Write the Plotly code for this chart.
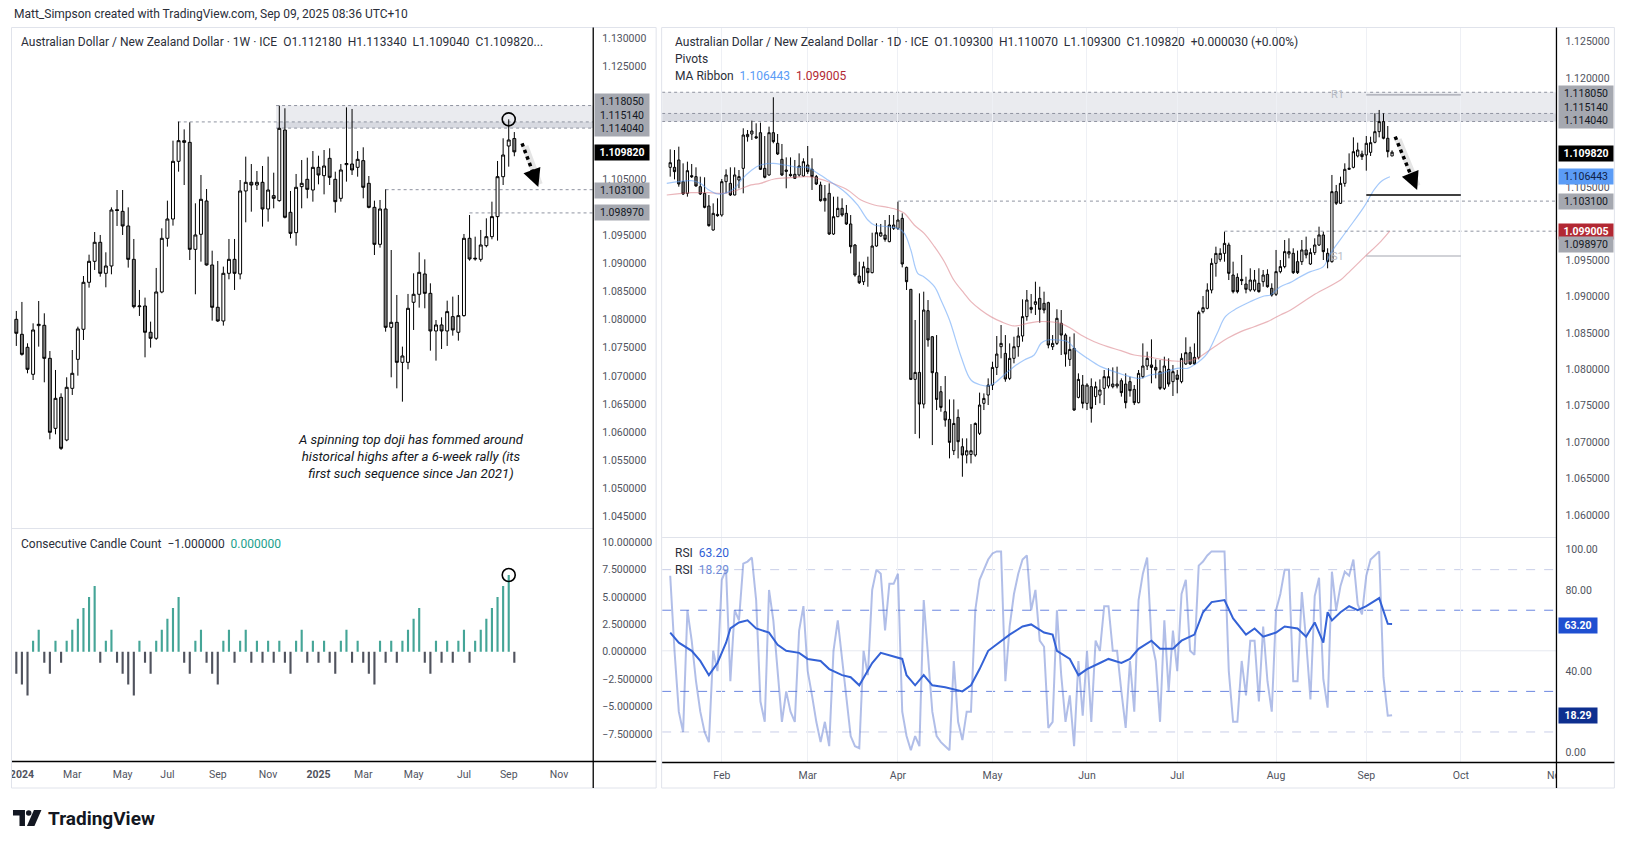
import plotly.graph_objects as go
import pandas as pd

W, H = 1625, 848
KX = 1.0055  # small horizontal calibration of the page layout
FONT = "Roboto, Liberation Sans, Arial, sans-serif"
TXT = "#131722"
AXC = "#50535e"


def px(x):
    return min(1.0, x * KX / W)


def py(y):
    return 1 - y / H


# ---------------- weekly AUD/NZD (left panel) ----------------
wk_open = [1.08006, 1.07740, 1.07509, 1.07029, 1.07894, 1.07900, 1.07313, 1.06069, 1.06620, 1.05862,
           1.06780, 1.07295, 1.07829, 1.08664, 1.09037, 1.09375, 1.08824, 1.08954, 1.09955, 1.09925,
           1.09665, 1.09072, 1.08231, 1.08243, 1.07776, 1.07669, 1.08492, 1.09446, 1.09789, 1.10814,
           1.11181, 1.11151, 1.09250, 1.09517, 1.10109, 1.08972, 1.08220, 1.07977, 1.08824, 1.09072,
           1.08812, 1.10287, 1.10441, 1.10393, 1.10441, 1.09967, 1.10204, 1.10115, 1.11370, 1.09908,
           1.09546, 1.10364, 1.10494, 1.10304, 1.10707, 1.10559, 1.10867, 1.10494, 1.10156, 1.10755,
           1.10766, 1.10707, 1.10826, 1.10423, 1.09996, 1.09339, 1.09967, 1.07864, 1.07953, 1.07242,
           1.07242, 1.08309, 1.08451, 1.08812, 1.08468, 1.07799, 1.07906, 1.07799, 1.08054, 1.07776,
           1.08072, 1.09446, 1.09078, 1.09072, 1.09315, 1.09475, 1.09831, 1.10541, 1.11086, 1.11218]
wk_high = [1.08155, 1.08315, 1.07580, 1.07935, 1.08332, 1.08113, 1.07443, 1.07106, 1.06691, 1.06976,
           1.07461, 1.07876, 1.08776, 1.09155, 1.09558, 1.09505, 1.09197, 1.09996, 1.10304, 1.10304,
           1.09996, 1.09434, 1.08528, 1.08392, 1.07965, 1.08919, 1.09623, 1.10115, 1.11181, 1.11519,
           1.11382, 1.11507, 1.10068, 1.10571, 1.10322, 1.09226, 1.09043, 1.08943, 1.09434, 1.09434,
           1.10482, 1.10897, 1.10766, 1.10642, 1.10731, 1.10897, 1.10612, 1.11803, 1.11756, 1.10287,
           1.10589, 1.10837, 1.10879, 1.10997, 1.10914, 1.11015, 1.11045, 1.10630, 1.10766, 1.11773,
           1.11744, 1.10997, 1.11063, 1.10553, 1.10115, 1.10127, 1.10316, 1.09238, 1.08439, 1.07521,
           1.08457, 1.08824, 1.09197, 1.09072, 1.08646, 1.07994, 1.08042, 1.08338, 1.08410, 1.08439,
           1.09523, 1.09860, 1.09475, 1.09594, 1.09801, 1.10097, 1.10820, 1.11223, 1.11560, 1.11334]
wk_low = [1.07533, 1.07361, 1.07047, 1.06928, 1.07521, 1.06887, 1.05874, 1.05963, 1.05685, 1.05840,
          1.06662, 1.07005, 1.07639, 1.08569, 1.08883, 1.08764, 1.08575, 1.08806, 1.09665, 1.09505,
          1.08925, 1.08202, 1.08066, 1.07331, 1.07503, 1.07640, 1.08470, 1.09298, 1.09671, 1.10630,
          1.10393, 1.09060, 1.08451, 1.09031, 1.08960, 1.07983, 1.07960, 1.07894, 1.08717, 1.08528,
          1.08717, 1.09730, 1.09919, 1.10304, 1.09653, 1.09742, 1.09979, 1.10097, 1.09800, 1.09446,
          1.09315, 1.09979, 1.10156, 1.10097, 1.10405, 1.10227, 1.10393, 1.09902, 1.10097, 1.10453,
          1.10571, 1.10541, 1.10156, 1.09979, 1.09149, 1.09280, 1.07787, 1.06976, 1.06780, 1.06543,
          1.07118, 1.07817, 1.08214, 1.08202, 1.07449, 1.07272, 1.07479, 1.07533, 1.07716, 1.07627,
          1.08054, 1.09049, 1.09049, 1.09031, 1.09286, 1.09428, 1.09404, 1.10393, 1.10719, 1.10904]
wk_close = [1.07758, 1.07384, 1.07118, 1.07817, 1.07918, 1.07313, 1.05998, 1.06602, 1.05714, 1.06798,
            1.07047, 1.07835, 1.08664, 1.09037, 1.09375, 1.08824, 1.08954, 1.09949, 1.09940, 1.09665,
            1.09072, 1.08231, 1.08243, 1.07776, 1.07669, 1.08492, 1.09446, 1.09789, 1.10814, 1.11181,
            1.11151, 1.09250, 1.09505, 1.10139, 1.08972, 1.08220, 1.07977, 1.08824, 1.09072, 1.08824,
            1.10287, 1.10441, 1.10393, 1.10441, 1.09967, 1.10304, 1.10156, 1.11400, 1.09819, 1.09534,
            1.10352, 1.10423, 1.10316, 1.10707, 1.10571, 1.10731, 1.10529, 1.10097, 1.10660, 1.10775,
            1.10660, 1.10849, 1.10352, 1.09996, 1.09339, 1.09967, 1.07864, 1.07953, 1.07242, 1.07355,
            1.08202, 1.08451, 1.08841, 1.08468, 1.07799, 1.07906, 1.07799, 1.08143, 1.07817, 1.08072,
            1.09446, 1.09078, 1.09090, 1.09327, 1.09475, 1.09831, 1.10541, 1.10926, 1.11193, 1.10982]

# Consecutive Candle Count indicator (weekly)
cc_count = [-2, -3, -4, 1, 2, -1, -2, 1, -1, 1,
            2, 3, 4, 5, 6, -1, 1, 2, -1, -2,
            -3, -4, 1, -1, -2, 1, 2, 3, 4, 5,
            -1, -2, 1, 2, -1, -2, -3, 1, 2, -1,
            1, 2, -1, 1, -1, 1, -1, 1, -1, -2,
            1, 2, -1, 1, -1, 1, -1, -2, 1, 2,
            -1, 1, -1, -2, -3, 1, -1, 1, -1, 1,
            2, 3, 4, -1, -2, 1, -1, 1, -1, 1,
            2, -1, 1, 2, 3, 4, 5, 6, 7, -1]

left_tick_dates = ["2024-01-01", "2024-03-04", "2024-05-06", "2024-07-01", "2024-09-02", "2024-11-04",
                   "2025-01-06", "2025-03-03", "2025-05-05", "2025-07-07", "2025-09-01", "2025-11-03"]
left_tick_text = ["<b>2024</b>", "Mar", "May", "Jul", "Sep", "Nov",
                  "<b>2025</b>", "Mar", "May", "Jul", "Sep", "Nov"]
# price ticks left visible (the ones under the level labels are covered in the reference)
left_price_ticks = [1.045, 1.05, 1.055, 1.06, 1.065, 1.07, 1.075, 1.08, 1.085, 1.09, 1.095,
                    1.105, 1.125, 1.13]

# ---------------- daily AUD/NZD (right panel), bars from 16 Jan 2025 ----------------
d_open = [1.10774, 1.10774, 1.10875, 1.10577, 1.10417, 1.10660, 1.10646, 1.10508, 1.10417, 1.10243,
          1.09913, 1.10128, 1.10119, 1.10577, 1.10554, 1.10394, 1.10600, 1.10760, 1.11195, 1.11232,
          1.11195, 1.11250, 1.10760, 1.10669, 1.11250, 1.11104, 1.10884, 1.10737, 1.10678, 1.10678,
          1.10669, 1.10655, 1.10806, 1.10747, 1.10646, 1.10531, 1.10316, 1.10417, 1.09858, 1.10096,
          1.10211, 1.10142, 1.09996, 1.09707, 1.09281, 1.09203, 1.09386, 1.09327, 1.09693, 1.09831,
          1.09844, 1.09753, 1.09936, 1.09936, 1.10073, 1.09400, 1.09098, 1.07861, 1.07957, 1.07522,
          1.08805, 1.08447, 1.07953, 1.07692, 1.07417, 1.07312, 1.06881, 1.07339, 1.06936, 1.06822,
          1.06830, 1.06822, 1.07120, 1.07532, 1.07646, 1.07783, 1.08026, 1.08310, 1.08218, 1.07875,
          1.08150, 1.08310, 1.08457, 1.08723, 1.08850, 1.08892, 1.08974, 1.08906, 1.08915, 1.08310,
          1.08356, 1.08631, 1.08470, 1.08136, 1.08287, 1.07614, 1.07783, 1.07532, 1.07761, 1.07624,
          1.07646, 1.07738, 1.07770, 1.07761, 1.07770, 1.07843, 1.07797, 1.07830, 1.07724, 1.07541,
          1.07898, 1.08045, 1.08059, 1.08026, 1.07967, 1.07738, 1.07999, 1.07830, 1.07921, 1.07830,
          1.08073, 1.08228, 1.08164, 1.08164, 1.08791, 1.08837, 1.09089, 1.09455, 1.09510, 1.09592,
          1.09707, 1.09295, 1.09263, 1.09235, 1.09171, 1.09089, 1.09089, 1.09181, 1.09203, 1.09304,
          1.09112, 1.09030, 1.09341, 1.09410, 1.09584, 1.09593, 1.09478, 1.09478, 1.09639, 1.09446,
          1.09602, 1.09707, 1.09845, 1.09593, 1.09478, 1.10440, 1.10280, 1.10554, 1.10747, 1.10774,
          1.10930, 1.10957, 1.10944, 1.10980, 1.11118, 1.11264, 1.11402, 1.11173, 1.10930]
d_high = [1.11021, 1.11012, 1.11058, 1.10829, 1.10852, 1.10820, 1.10774, 1.10646, 1.10637, 1.10394,
          1.10279, 1.10348, 1.10614, 1.10747, 1.10774, 1.10774, 1.10737, 1.11310, 1.11287, 1.11415,
          1.11379, 1.11388, 1.11204, 1.11333, 1.11736, 1.11232, 1.11095, 1.10911, 1.10911, 1.10875,
          1.10966, 1.10898, 1.11067, 1.10898, 1.10669, 1.10577, 1.10531, 1.10554, 1.10371, 1.10371,
          1.10348, 1.10257, 1.10119, 1.09721, 1.09478, 1.09478, 1.09547, 1.09876, 1.10005, 1.09996,
          1.10050, 1.10119, 1.10119, 1.10302, 1.10142, 1.09410, 1.09100, 1.08677, 1.09043, 1.09066,
          1.08951, 1.08457, 1.08470, 1.07770, 1.07907, 1.07586, 1.07586, 1.07449, 1.07051, 1.07051,
          1.07247, 1.07270, 1.07679, 1.07669, 1.07875, 1.08104, 1.08457, 1.08608, 1.08470, 1.08356,
          1.08447, 1.08576, 1.08961, 1.09089, 1.09034, 1.09203, 1.09134, 1.09066, 1.08928, 1.08470,
          1.08824, 1.08814, 1.08493, 1.08447, 1.08493, 1.07944, 1.07921, 1.07807, 1.07875, 1.07830,
          1.07861, 1.07990, 1.08013, 1.08026, 1.08036, 1.07875, 1.07944, 1.07898, 1.07784, 1.07990,
          1.08356, 1.08242, 1.08411, 1.08136, 1.08127, 1.08173, 1.08150, 1.08059, 1.07990, 1.08219,
          1.08439, 1.08310, 1.08356, 1.08805, 1.09007, 1.09181, 1.09524, 1.09684, 1.09662, 1.09890,
          1.09739, 1.09478, 1.09318, 1.09570, 1.09272, 1.09387, 1.09364, 1.09387, 1.09364, 1.09373,
          1.09181, 1.09639, 1.09501, 1.09776, 1.09799, 1.09662, 1.09630, 1.09776, 1.09822, 1.09662,
          1.09799, 1.09959, 1.09890, 1.09662, 1.10669, 1.10532, 1.10646, 1.10829, 1.10966, 1.11186,
          1.11113, 1.11003, 1.11204, 1.11195, 1.11516, 1.11562, 1.11516, 1.11342, 1.11007]
d_low = [1.10646, 1.10609, 1.10508, 1.10394, 1.10371, 1.10628, 1.10508, 1.10394, 1.10211, 1.09959,
         1.09904, 1.10096, 1.10096, 1.10417, 1.10380, 1.10390, 1.10486, 1.10417, 1.11127, 1.11150,
         1.11168, 1.10737, 1.10623, 1.10660, 1.11104, 1.10944, 1.10655, 1.10486, 1.10646, 1.10614,
         1.10646, 1.10646, 1.10683, 1.10463, 1.10531, 1.10302, 1.10165, 1.09845, 1.09845, 1.10090,
         1.10096, 1.09982, 1.09592, 1.09272, 1.09171, 1.09157, 1.09134, 1.09318, 1.09684, 1.09821,
         1.09753, 1.09745, 1.09913, 1.09913, 1.09400, 1.09089, 1.07852, 1.07111, 1.07051, 1.07463,
         1.08310, 1.06959, 1.07440, 1.07417, 1.07211, 1.06776, 1.06822, 1.06776, 1.06524, 1.06707,
         1.06707, 1.06799, 1.07097, 1.07440, 1.07509, 1.07715, 1.07921, 1.08150, 1.07829, 1.07852,
         1.08082, 1.08173, 1.08379, 1.08667, 1.08768, 1.08746, 1.08640, 1.08768, 1.08288, 1.08265,
         1.08333, 1.08196, 1.08036, 1.08045, 1.07430, 1.07600, 1.07463, 1.07440, 1.07267, 1.07509,
         1.07532, 1.07509, 1.07738, 1.07738, 1.07738, 1.07624, 1.07463, 1.07624, 1.07509, 1.07532,
         1.07875, 1.07990, 1.07807, 1.07875, 1.07715, 1.07715, 1.07761, 1.07633, 1.07669, 1.07807,
         1.08059, 1.08059, 1.08059, 1.08136, 1.08768, 1.08824, 1.09043, 1.09272, 1.09478, 1.09478,
         1.09226, 1.09043, 1.09043, 1.09157, 1.09043, 1.09066, 1.09066, 1.09053, 1.09134, 1.09121,
         1.08998, 1.09007, 1.09318, 1.09387, 1.09524, 1.09309, 1.09309, 1.09433, 1.09524, 1.09433,
         1.09570, 1.09693, 1.09501, 1.09387, 1.09465, 1.10257, 1.10271, 1.10508, 1.10737, 1.10760,
         1.10911, 1.10875, 1.10728, 1.10930, 1.11104, 1.11186, 1.11159, 1.10911, 1.10930]
d_close = [1.10838, 1.10715, 1.10545, 1.10408, 1.10728, 1.10645, 1.10518, 1.10408, 1.10224, 1.09973,
           1.10142, 1.10110, 1.10577, 1.10669, 1.10394, 1.10669, 1.10646, 1.11218, 1.11227, 1.11273,
           1.11177, 1.10747, 1.10637, 1.11250, 1.11127, 1.10957, 1.10669, 1.10719, 1.10660, 1.10623,
           1.10792, 1.10852, 1.10715, 1.10646, 1.10545, 1.10316, 1.10348, 1.09858, 1.10096, 1.10211,
           1.10119, 1.09996, 1.09684, 1.09295, 1.09189, 1.09409, 1.09327, 1.09693, 1.09876, 1.09876,
           1.09785, 1.09982, 1.09982, 1.10050, 1.09446, 1.09203, 1.07861, 1.07957, 1.07522, 1.08814,
           1.08402, 1.07953, 1.07586, 1.07476, 1.07302, 1.06996, 1.07256, 1.07005, 1.06822, 1.06881,
           1.06881, 1.07256, 1.07509, 1.07600, 1.07783, 1.08026, 1.08209, 1.08356, 1.07866, 1.08150,
           1.08310, 1.08457, 1.08723, 1.08951, 1.08823, 1.08928, 1.08823, 1.08814, 1.08333, 1.08356,
           1.08700, 1.08470, 1.08209, 1.08273, 1.07440, 1.07861, 1.07532, 1.07783, 1.07463, 1.07761,
           1.07715, 1.07898, 1.07898, 1.07797, 1.07797, 1.07679, 1.07541, 1.07706, 1.07541, 1.07944,
           1.08045, 1.08150, 1.08026, 1.07990, 1.07738, 1.08045, 1.07797, 1.07967, 1.07861, 1.08150,
           1.08228, 1.08073, 1.08073, 1.08778, 1.08846, 1.09089, 1.09455, 1.09592, 1.09592, 1.09730,
           1.09318, 1.09066, 1.09066, 1.09217, 1.09098, 1.09226, 1.09226, 1.09066, 1.09295, 1.09134,
           1.09020, 1.09341, 1.09410, 1.09616, 1.09616, 1.09327, 1.09327, 1.09639, 1.09570, 1.09602,
           1.09707, 1.09845, 1.09616, 1.09478, 1.10440, 1.10280, 1.10554, 1.10747, 1.10760, 1.10989,
           1.11012, 1.10921, 1.11104, 1.11113, 1.11264, 1.11402, 1.11173, 1.10989, 1.10982]
d_first_bar = -12  # bar index relative to 3 Feb 2025

# MA Ribbon (read at sample bars)
ma_fast_idx = [-12.8, -7, -5, -3, -1, 0.6, 3, 4.5, 7, 9, 12, 14.6, 17.7, 20, 22.3, 24.7, 27, 29, 31.6, 34,
               35.5, 38.6, 41, 42.5, 44, 45.6, 47, 49.5, 51, 53, 55.7, 58, 60.3, 61.9, 63.4, 65.7, 68, 70.4,
               72.7, 74.3, 75.8, 78.1, 80.5, 82.4, 85.1, 88.2, 91.3, 93.6, 95.9, 97.5, 99.8, 102.2, 106,
               108.4, 109.9, 111.5, 113, 115.3, 117.2, 119.9, 123, 126.2, 127.7, 130, 132.4, 134, 137, 140,
               141.7, 145.6, 149.5, 151.8, 153.4, 155.5]
ma_fast_val = [1.10554, 1.10591, 1.10554, 1.10463, 1.10408, 1.10417, 1.10486, 1.10600, 1.10738, 1.10806,
               1.10829, 1.10806, 1.10774, 1.10774, 1.10692, 1.10600, 1.10509, 1.10417, 1.10257, 1.10051,
               1.09982, 1.09959, 1.09936, 1.09868, 1.09639, 1.09318, 1.09272, 1.09135, 1.08952, 1.08677,
               1.08173, 1.07853, 1.07784, 1.07770, 1.07807, 1.07922, 1.08036, 1.08128, 1.08196, 1.08357,
               1.08402, 1.08402, 1.08379, 1.08265, 1.08150, 1.08036, 1.07967, 1.07922, 1.07885, 1.07876,
               1.07922, 1.07944, 1.08013, 1.08013, 1.08059, 1.08128, 1.08219, 1.08494, 1.08723, 1.08837,
               1.08929, 1.09007, 1.09021, 1.09135, 1.09194, 1.09249, 1.09341, 1.09410, 1.09593, 1.09913,
               1.10234, 1.10463, 1.10577, 1.10644]
ma_slow_idx = [-12.8, -7, -3, 0.6, 3.7, 6.8, 9, 12.2, 16.1, 20, 23.1, 26.2, 29.3, 32.4, 35.5, 38.6, 41, 42.5,
               44.8, 47.1, 49.5, 51.8, 54, 56.4, 58, 60.3, 62.6, 65, 68, 71.1, 73.5, 75.8, 78.9, 81.2, 83.6,
               86.7, 89.8, 92.9, 96, 99.1, 102.2, 105.3, 108.4, 110.7, 113, 115.3, 117.7, 120.8, 123.9, 127,
               130, 132.4, 138, 144, 145.6, 149.5, 153.4, 155.5]
ma_slow_val = [1.10394, 1.10426, 1.10426, 1.10417, 1.10463, 1.10532, 1.10554, 1.10614, 1.10632, 1.10646,
               1.10609, 1.10545, 1.10463, 1.10325, 1.10257, 1.10225, 1.10188, 1.10142, 1.09982, 1.09868,
               1.09684, 1.09478, 1.09226, 1.09043, 1.08929, 1.08814, 1.08723, 1.08654, 1.08595, 1.08631,
               1.08654, 1.08654, 1.08631, 1.08563, 1.08471, 1.08379, 1.08311, 1.08256, 1.08196, 1.08173,
               1.08137, 1.08114, 1.08114, 1.08150, 1.08242, 1.08334, 1.08425, 1.08517, 1.08585, 1.08654,
               1.08746, 1.08814, 1.0903, 1.09227, 1.09314, 1.09538, 1.09758, 1.09900]
ma_fast_last, ma_slow_last = 1.106443, 1.099005

# RSI lines
rsi_fast = [87, 50, 20, 10, 70, 55, 35, 20, 10, 5, 50, 40, 85, 90, 35, 70, 65, 93, 94, 96,
            75, 25, 15, 80, 65, 40, 15, 30, 20, 15, 60, 72, 40, 28, 15, 5, 15, 3, 50, 65,
            45, 25, 8, 3, 2, 50, 38, 80, 90, 88, 60, 83, 83, 88, 20, 8, 1, 8, 3, 75,
            45, 20, 8, 5, 3, 1, 45, 15, 6, 20, 20, 70, 85, 90, 95, 98, 99, 99, 35, 62,
            78, 88, 95, 97, 70, 80, 55, 52, 12, 15, 70, 38, 15, 28, 3, 45, 18, 50, 15, 55,
            50, 72, 72, 50, 50, 30, 12, 45, 20, 75, 88, 96, 55, 45, 15, 65, 30, 60, 40, 78,
            85, 50, 48, 92, 94, 97, 99, 99, 99, 99, 40, 15, 15, 45, 28, 55, 55, 25, 62, 35,
            20, 70, 78, 90, 90, 35, 35, 79, 55, 26, 77, 86, 36, 22, 89, 70, 82, 89, 87, 95,
            73, 68, 87, 95, 97, 99, 37, 18, 18.29]
rsi_slow_idx = [-12, -10, -7, -5, -3, -1, 1, 2, 4, 6, 8, 11, 13, 15, 18, 20, 23, 25, 28, 30, 32, 35, 37, 40,
                42, 43, 45, 47, 49, 52, 54, 56, 58, 60, 62, 65, 67, 70, 72, 75, 77, 78, 81, 83, 85, 88, 90,
                93, 95, 97, 100, 102, 105, 107, 110, 112, 114, 117, 119, 122, 124, 126, 129, 131, 134, 136,
                138, 140, 141, 142, 144, 146, 148, 150, 153, 155, 156]
rsi_slow_val = [59, 54, 50, 45, 38, 44, 54, 61, 64, 65, 61, 59, 53, 50, 49, 46, 45, 41, 38, 37, 33, 44, 49, 47,
                46, 38, 33, 38, 33, 32, 31, 30, 33, 41, 50, 55, 58, 62, 63, 59, 58, 50, 46, 38, 41, 44, 46,
                44, 46, 51, 55, 51, 51, 55, 58, 69, 74, 75, 66, 58, 61, 57, 59, 62, 61, 57, 64, 54, 69, 65,
                69, 72, 70, 72, 76, 63.3, 63.2]

d_tick_idx = [0, 20, 41, 63, 85, 106, 129, 150, 172, 194.2]
d_tick_text = ["Feb", "Mar", "Apr", "May", "Jun", "Jul", "Aug", "Sep", "Oct", "Nov"]
right_price_ticks = [1.06, 1.065, 1.07, 1.075, 1.08, 1.085, 1.09, 1.095, 1.105,
                     1.12, 1.125]
rsi_ticks = [0, 40, 80, 100]

# key levels
zone_top, zone_mid, zone_bot = 1.11805, 1.11514, 1.11404
level_a, level_b = 1.10310, 1.09897
pivot_r1, pivot_p, pivot_s1 = 1.11768, 1.10394, 1.09556
last_close = 1.10982

# ---------------- figure ----------------
week_dates = pd.date_range("2023-12-25", periods=len(wk_close), freq="7D")
d_idx = list(range(d_first_bar, d_first_bar + len(d_close)))

L_RANGE = ["2023-12-19 14:00", "2025-12-15 17:00"]
R_RANGE = [-13.88, 194.26]

fig = go.Figure()
candle_style = dict(
    increasing=dict(line=dict(color="#000000", width=1), fillcolor="#ffffff"),
    decreasing=dict(line=dict(color="#000000", width=1), fillcolor="#7f7f7f"),
    whiskerwidth=0, showlegend=False, hoverinfo="skip")

fig.add_trace(go.Candlestick(x=week_dates, open=wk_open, high=wk_high, low=wk_low, close=wk_close,
                             xaxis="x", yaxis="y", **candle_style))
fig.add_trace(go.Bar(x=week_dates, y=cc_count, xaxis="x2", yaxis="y2", width=2.3e8,
                     marker=dict(color=["#45a597" if v > 0 else "#50535e" for v in cc_count], line=dict(width=0)),
                     showlegend=False, hoverinfo="skip"))

fig.add_trace(go.Scatter(x=ma_slow_idx, y=ma_slow_val, mode="lines", xaxis="x3", yaxis="y3",
                         line=dict(color="rgba(214,110,120,0.5)", width=1.2, shape="spline"),
                         showlegend=False, hoverinfo="skip"))
fig.add_trace(go.Scatter(x=ma_fast_idx, y=ma_fast_val, mode="lines", xaxis="x3", yaxis="y3",
                         line=dict(color="rgba(91,156,246,0.55)", width=1.2, shape="spline"),
                         showlegend=False, hoverinfo="skip"))
fig.add_trace(go.Candlestick(x=d_idx, open=d_open, high=d_high, low=d_low, close=d_close,
                             xaxis="x3", yaxis="y3", **candle_style))

fig.add_trace(go.Scatter(x=d_idx, y=rsi_fast, mode="lines", xaxis="x4", yaxis="y4",
                         line=dict(color="rgba(70,100,200,0.42)", width=2),
                         showlegend=False, hoverinfo="skip"))
fig.add_trace(go.Scatter(x=rsi_slow_idx, y=rsi_slow_val, mode="lines", xaxis="x4", yaxis="y4",
                         line=dict(color="#3462d6", width=2),
                         showlegend=False, hoverinfo="skip"))

tickfont = dict(family=FONT, size=10.5, color=AXC)
base_x = dict(showgrid=False, zeroline=False, showline=False, fixedrange=True, ticks="")
base_y = dict(showgrid=False, zeroline=False, showline=False, fixedrange=True, ticks="", side="right",
              tickfont=tickfont, ticklabelstandoff=8)

fig.update_layout(
    width=W, height=H, margin=dict(l=0, r=0, t=0, b=0),
    paper_bgcolor="white", plot_bgcolor="white", showlegend=False, hovermode=False,
    boxgap=0.25,
    xaxis=dict(base_x, domain=[px(10), px(592)], range=L_RANGE, type="date", anchor="y",
               showticklabels=False, rangeslider=dict(visible=False)),
    yaxis=dict(base_y, domain=[py(528), py(28)], range=[1.04298, 1.13183], anchor="x",
               tickvals=left_price_ticks, tickformat=".6f"),
    xaxis2=dict(base_x, domain=[px(10), px(592)], range=L_RANGE, type="date", anchor="y2",
                tickvals=left_tick_dates, ticktext=left_tick_text, tickfont=tickfont, ticklabelstandoff=5),
    yaxis2=dict(base_y, domain=[py(761), py(529)], range=[-9.97, 11.2], anchor="x2",
                tickvals=[-7.5, -5, -2.5, 0, 2.5, 5, 7.5, 10], tickformat=".6f"),
    xaxis3=dict(base_x, domain=[px(661), px(1556.5)], range=R_RANGE, anchor="y3", showticklabels=False,
                tickvals=d_tick_idx, showgrid=True, gridcolor="#eef0f5", gridwidth=1,
                rangeslider=dict(visible=False)),
    yaxis3=dict(base_y, domain=[py(537), py(28)], range=[1.05696, 1.12688], anchor="x3",
                tickvals=right_price_ticks, tickformat=".6f"),
    xaxis4=dict(base_x, domain=[px(661), px(1556.5)], range=R_RANGE, anchor="y4",
                tickvals=d_tick_idx, ticktext=d_tick_text, tickfont=tickfont, ticklabelstandoff=5,
                showgrid=True, gridcolor="#eef0f5", gridwidth=1),
    yaxis4=dict(base_y, domain=[py(762), py(538)], range=[-4.8, 105.6], anchor="x4",
                tickvals=rsi_ticks, ticktext=["%.2f" % v for v in rsi_ticks]),
)

shapes = []
ZONE = "rgba(130,134,160,0.17)"
DOT = "#8f93a0"
# left zone + levels
zone_start = "2024-11-14"
shapes += [
    dict(type="rect", xref="x", yref="y", x0=zone_start, x1=L_RANGE[1], y0=zone_bot, y1=zone_top,
         fillcolor=ZONE, line=dict(width=0), layer="below"),
    dict(type="rect", xref="x", yref="y", x0=zone_start, x1=L_RANGE[1], y0=zone_bot, y1=zone_mid,
         fillcolor=ZONE, line=dict(width=0), layer="below"),
    dict(type="line", xref="x", yref="y", x0=zone_start, x1=L_RANGE[1], y0=zone_top, y1=zone_top,
         line=dict(color=DOT, width=1, dash="dot"), layer="below"),
    dict(type="line", xref="x", yref="y", x0="2024-07-14", x1=L_RANGE[1], y0=zone_mid, y1=zone_mid,
         line=dict(color=DOT, width=1, dash="dot"), layer="below"),
    dict(type="line", xref="x", yref="y", x0=zone_start, x1=L_RANGE[1], y0=zone_bot, y1=zone_bot,
         line=dict(color=DOT, width=1, dash="dot"), layer="below"),
    dict(type="line", xref="x", yref="y", x0=str(week_dates[66].date()), x1=L_RANGE[1], y0=level_a, y1=level_a,
         line=dict(color=DOT, width=1, dash="dot"), layer="below"),
    dict(type="line", xref="x", yref="y", x0=str(week_dates[81].date()), x1=L_RANGE[1], y0=level_b, y1=level_b,
         line=dict(color=DOT, width=1, dash="dot"), layer="below"),
]
# right zone + levels
shapes += [
    dict(type="rect", xref="x3", yref="y3", x0=R_RANGE[0], x1=R_RANGE[1], y0=zone_bot, y1=zone_top,
         fillcolor=ZONE, line=dict(width=0), layer="below"),
    dict(type="rect", xref="x3", yref="y3", x0=R_RANGE[0], x1=R_RANGE[1], y0=zone_bot, y1=zone_mid,
         fillcolor=ZONE, line=dict(width=0), layer="below"),
]
for lv in (zone_top, zone_mid, zone_bot):
    shapes.append(dict(type="line", xref="x3", yref="y3", x0=R_RANGE[0], x1=R_RANGE[1], y0=lv, y1=lv,
                       line=dict(color=DOT, width=1, dash="dot"), layer="below"))
shapes += [
    dict(type="line", xref="x3", yref="y3", x0=41, x1=R_RANGE[1], y0=level_a, y1=level_a,
         line=dict(color=DOT, width=1, dash="dot"), layer="below"),
    dict(type="line", xref="x3", yref="y3", x0=117, x1=R_RANGE[1], y0=level_b, y1=level_b,
         line=dict(color=DOT, width=1, dash="dot"), layer="below"),
    dict(type="line", xref="x3", yref="y3", x0=150, x1=172, y0=pivot_r1, y1=pivot_r1,
         line=dict(color="#a3a6af", width=1.2)),
    dict(type="line", xref="x3", yref="y3", x0=150, x1=172, y0=pivot_p, y1=pivot_p,
         line=dict(color="#000000", width=1.5)),
    dict(type="line", xref="x3", yref="y3", x0=150, x1=172, y0=pivot_s1, y1=pivot_s1,
         line=dict(color="#a3a6af", width=1.2)),
]
# RSI bands
for lv, col in ((90, "#c9cfe8"), (70, "#6a86e0"), (30, "#6a86e0"), (10, "#c9cfe8")):
    shapes.append(dict(type="line", xref="x4", yref="y4", x0=R_RANGE[0], x1=R_RANGE[1], y0=lv, y1=lv,
                       line=dict(color=col, width=1, dash="dash"), layer="below"))
shapes.append(dict(type="line", xref="x4", yref="y4", x0=R_RANGE[0], x1=R_RANGE[1], y0=50, y1=50,
                   line=dict(color="#e6e9f0", width=1), layer="below"))

# circles on the doji
shapes += [
    dict(type="circle", xref="x", yref="y", xsizemode="pixel", ysizemode="pixel",
         xanchor=str(week_dates[88].date()), yanchor=wk_high[88], x0=-6.5, x1=6.5, y0=-6.5, y1=6.5,
         line=dict(color="#000", width=1.6)),
    dict(type="circle", xref="x2", yref="y2", xsizemode="pixel", ysizemode="pixel",
         xanchor=str(week_dates[88].date()), yanchor=cc_count[88], x0=-6.5, x1=6.5, y0=-6.5, y1=6.5,
         line=dict(color="#000", width=1.6)),
]


def pl(x0, y0, x1, y1, color, width, dash="solid", layer="above"):
    return dict(type="line", xref="paper", yref="paper", x0=px(x0), y0=py(y0), x1=px(x1), y1=py(y1),
                line=dict(color=color, width=width, dash=dash), layer=layer)


# dotted arrows with soft shadow
for (ax0, ay0, ax1, ay1) in ((520.7, 143.3, 535.0, 181.5), (1395.0, 136.7, 1414.0, 183.0)):
    shapes.append(pl(ax0 + 3, ay0 + 3, ax1 + 3, ay1 + 3, "rgba(0,0,0,0.10)", 7))
    shapes.append(pl(ax0, ay0, ax1, ay1, "#000000", 3.5, "dot"))

# covers for time-axis labels beyond panes
shapes += [
    dict(type="rect", xref="paper", yref="paper", x0=0, x1=px(10), y0=py(790), y1=py(762),
         fillcolor="white", line=dict(width=0), layer="above"),
    dict(type="rect", xref="paper", yref="paper", x0=px(1557), x1=px(1614), y0=py(790), y1=py(763),
         fillcolor="white", line=dict(width=0), layer="above"),
]
# frames and separators
FR = "#e0e3eb"
shapes += [
    dict(type="rect", xref="paper", yref="paper", x0=px(9.5), x1=px(655), y0=py(788), y1=py(27.5),
         line=dict(color=FR, width=1), fillcolor="rgba(0,0,0,0)", layer="above"),
    dict(type="rect", xref="paper", yref="paper", x0=px(660.5), x1=px(1614.5), y0=py(788), y1=py(27.5),
         line=dict(color=FR, width=1), fillcolor="rgba(0,0,0,0)", layer="above"),
    pl(10, 528.5, 592, 528.5, FR, 1),
    pl(661, 537.5, 1556, 537.5, FR, 1),
    pl(592, 27.5, 592, 788, "#000000", 1.3),
    pl(10, 761.5, 655, 761.5, "#000000", 1.3),
    pl(1556.5, 27.5, 1556.5, 788, "#000000", 1.3),
    pl(661, 762.5, 1614.5, 762.5, "#000000", 1.3),
]

# TradingView logo
shapes += [
    dict(type="path", xref="paper", yref="paper", fillcolor=TXT, line=dict(width=0),
         path="M {} {} L {} {} L {} {} L {} {} L {} {} L {} {} Z".format(
             px(11), py(810), px(23), py(810), px(23), py(826), px(17.5), py(826), px(17.5), py(815.5),
             px(11), py(815.5))),
    dict(type="circle", xref="paper", yref="paper", fillcolor=TXT, line=dict(width=0),
         x0=px(24), x1=px(29.5), y0=py(815.8), y1=py(810.3)),
    dict(type="path", xref="paper", yref="paper", fillcolor=TXT, line=dict(width=0),
         path="M {} {} L {} {} L {} {} L {} {} Z".format(
             px(32), py(810), px(39.5), py(810), px(32.5), py(826), px(25), py(826))),
]
fig.update_layout(shapes=shapes)

# ---------------- annotations ----------------
ann = []


def text(x, y, t, size=12, color=TXT, xanchor="left", **kw):
    d = dict(x=px(x), y=py(y), xref="paper", yref="paper", text=t, showarrow=False, xanchor=xanchor,
             yanchor="middle", font=dict(family=FONT, size=size, color=color))
    d.update(kw)
    return d


def box(x, y, t, bg, fg, w=52, bold=False, size=10.5):
    return dict(x=px(x), y=py(y), xref="paper", yref="paper", text=("<b>%s</b>" % t) if bold else t,
                showarrow=False, xanchor="left", yanchor="middle", bgcolor=bg, width=w, align="center",
                borderpad=1, font=dict(family=FONT, size=size, color=fg))


S2 = "\u00a0\u00a0"
ann.append(text(10, 14.5, "Matt_Simpson created with TradingView.com, Sep 09, 2025 08:36 UTC+10", size=12,
                color="#2a2e39"))
ann.append(text(17, 41.5, "Australian Dollar / New Zealand Dollar · 1W · ICE" + S2 +
                f"O{wk_open[-1]:.6f}" + S2 + f"H{wk_high[-1]:.6f}" + S2 + f"L{wk_low[-1]:.6f}" + S2 +
                f"C{wk_close[-1]:.6f}...", size=12, color="#2a2e39"))
ann.append(text(17, 544, "Consecutive Candle Count" + S2 + f"{cc_count[-1]:.6f}".replace("-", "\u2212") +
                S2 + "<span style='color:#22a08c'>0.000000</span>", size=12, color="#2a2e39"))
ann.append(text(672, 41.5, "Australian Dollar / New Zealand Dollar · 1D · ICE" + S2 +
                f"O{d_open[-1]:.6f}" + S2 + f"H{d_high[-1]:.6f}" + S2 + f"L{d_low[-1]:.6f}" + S2 +
                f"C{d_close[-1]:.6f}" + S2 + "+0.000030 (+0.00%)", size=12, color="#2a2e39"))
ann.append(text(672, 59, "Pivots", size=12, color="#2a2e39"))
ann.append(text(672, 75.7, "MA Ribbon" + S2 + f"<span style='color:#5b9cf6'>{ma_fast_last:.6f}</span>" + S2 +
                f"<span style='color:#b22833'>{ma_slow_last:.6f}</span>", size=12, color="#2a2e39"))
ann.append(text(672, 553, "RSI" + S2 + f"<span style='color:#2f5fd6'>{rsi_slow_val[-1]:.2f}</span>",
                size=12, color="#2a2e39"))
ann.append(text(672, 569.7, "RSI" + S2 + f"<span style='color:#6f8bd8'>{rsi_fast[-1]:.2f}</span>",
                size=12, color="#2a2e39"))

# commentary
ann.append(text(410, 456, "<i>A spinning top doji has fommed around<br>historical highs after a 6-week rally (its"
                          "<br>first such sequence since Jan 2021)</i>", size=13.2, color=TXT, xanchor="center",
                align="center"))

# pivot labels
ann.append(dict(x=143.4, y=pivot_r1, xref="x3", yref="y3", text="R1", showarrow=False,
                font=dict(family=FONT, size=11, color="#b8bbc4")))
ann.append(dict(x=143.4, y=pivot_s1, xref="x3", yref="y3", text="S1", showarrow=False,
                font=dict(family=FONT, size=11, color="#b8bbc4")))

# arrow heads
for tipx, tipy, axo, ayo in ((537.0, 187.0, -3.4, -9.0), (1417.0, 190.0, -3.6, -8.6)):
    ann.append(dict(x=px(tipx), y=py(tipy), xref="paper", yref="paper", text="", showarrow=True,
                    ax=axo, ay=ayo, arrowhead=2, arrowsize=1.2, arrowwidth=3, arrowcolor="#000000"))

# axis price labels - left
GRAY_BG, GRAY_FG = "#a5a8b0", "#131722"
ann.append(box(593, 114.7, f"{zone_top:.6f}<br>{zone_mid:.6f}<br>{zone_bot:.6f}", GRAY_BG, GRAY_FG))
ann.append(box(593, 152.4, f"{last_close:.6f}", "#000000", "#ffffff", bold=True))
ann.append(box(593, 190.4, f"{level_a:.6f}", GRAY_BG, GRAY_FG))
ann.append(box(593, 212.9, f"{level_b:.6f}", GRAY_BG, GRAY_FG))
# axis price labels - right
ann.append(box(1558, 106.7, f"{zone_top:.6f}<br>{zone_mid:.6f}<br>{zone_bot:.6f}", GRAY_BG, GRAY_FG))
ann.append(box(1558, 153.3, f"{last_close:.6f}", "#000000", "#ffffff", bold=True))
ann.append(box(1558, 176.7, f"{ma_fast_last:.6f}", "#5b9cf6", "#0f2147"))
ann.append(box(1558, 201.7, f"{level_a:.6f}", GRAY_BG, GRAY_FG))
ann.append(box(1558, 231.7, f"{ma_slow_last:.6f}", "#b22833", "#ffffff", bold=True))
ann.append(box(1558, 245.0, f"{level_b:.6f}", GRAY_BG, GRAY_FG))
# RSI labels
ann.append(box(1558, 625, f"{rsi_slow_val[-1]:.2f}", "#1f4fd1", "#ffffff", w=36, bold=True))
ann.append(box(1558, 715.5, f"{rsi_fast[-1]:.2f}", "#0e2f8f", "#ffffff", w=36, bold=True))

# logo text
ann.append(text(44, 818, "<b>TradingView</b>", size=19, color=TXT))

fig.update_layout(annotations=ann)

fig.write_html("out.html", include_plotlyjs=True,
               config={"displayModeBar": False, "staticPlot": True},
               post_script="document.documentElement.style.margin='0px';document.body.style.margin='0px';"
                           "document.documentElement.style.overflow='hidden';document.body.style.overflow='hidden';")
